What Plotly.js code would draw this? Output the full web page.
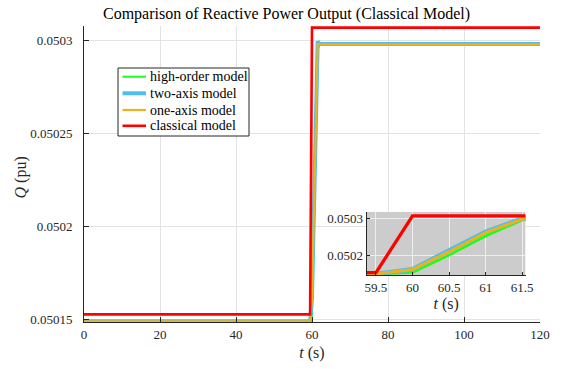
<!DOCTYPE html>
<html>
<head>
<meta charset="utf-8">
<script src="https://cdn.plot.ly/plotly-3.0.1.min.js"></script>
<style>
  html, body { margin: 0; padding: 0; background: #ffffff; }
  #chart { width: 569px; height: 369px; }
</style>
</head>
<body>
<div id="chart"></div>
<script>
// Simulation time samples (s)
const time = [0, 59.5, 60, 60.5, 61, 61.5, 62, 120];

// Reactive power output Q (pu) for each generator model
const qHighOrder = [0.050149, 0.050149, 0.050153, 0.0502005, 0.050252, 0.0502953, 0.0502977, 0.0502977];
const qTwoAxis   = [0.050149, 0.050149, 0.050162, 0.050212, 0.0502636, 0.0502995, 0.050298, 0.050298];
const qOneAxis   = [0.050149, 0.050149, 0.0501615, 0.0502095, 0.050261, 0.050298, 0.0502978, 0.0502978];
const qClassical = [0.0501527, 0.0501527, 0.0503068, 0.0503068, 0.0503068, 0.0503068, 0.0503068, 0.0503068];

const seriesNames = ['high-order model', 'two-axis model', 'one-axis model', 'classical model'];
const seriesValues = [qHighOrder, qTwoAxis, qOneAxis, qClassical];

// Tick labels
const xTicks = [0, 20, 40, 60, 80, 100, 120];
const yTicks = [0.05015, 0.0502, 0.05025, 0.0503];
const yTickText = ['0.05015', '0.0502', '0.05025', '0.0503'];
const zoomXTicks = [59.5, 60, 60.5, 61, 61.5];
const zoomYTicks = [0.0502, 0.0503];
const zoomYTickText = ['0.0502', '0.0503'];

// Styling
const colors = ['#1aff1a', '#4dbeee', '#edb120', '#ff0000'];
const mainWidths = [2, 4, 2.2, 2.6];
const zoomWidths = [2.6, 4.6, 3, 3.3];
const FONT = '"Liberation Serif", "DejaVu Serif", serif';
const INK = '#262626';

// Plot area in pixels (for placing the hand-drawn legend and y label)
const W = 569, H = 369;
const M = { l: 84, r: 29, t: 26, b: 47 };
const PW = W - M.l - M.r, PH = H - M.t - M.b;
const px = x => (x - M.l) / PW;
const py = y => (H - M.b - y) / PH;

const zoomXRange = [59.373, 61.545];
const zoomYRange = [0.0501464, 0.0503179];

const traces = [];
seriesValues.forEach((vals, i) => {
  traces.push({
    x: time, y: vals, type: 'scatter', mode: 'lines', name: seriesNames[i],
    line: { color: colors[i], width: mainWidths[i] },
    xaxis: 'x', yaxis: 'y', showlegend: false, hoverinfo: 'skip'
  });
});
seriesValues.forEach((vals, i) => {
  traces.push({
    x: time, y: vals, type: 'scatter', mode: 'lines', name: seriesNames[i],
    line: { color: colors[i], width: zoomWidths[i] },
    xaxis: 'x2', yaxis: 'y2', showlegend: false, hoverinfo: 'skip'
  });
});

// Legend box drawn by hand
const legBox = { x0: 118, x1: 249, y0: 68, y1: 136 };
const legRows = [76.7, 93.3, 110, 125.8];
const shapes = [
  {
    type: 'rect', xref: 'x2', yref: 'y2', layer: 'below',
    x0: zoomXRange[0], x1: zoomXRange[1], y0: zoomYRange[0], y1: zoomYRange[1],
    fillcolor: '#cccccc', line: { width: 0 }
  },
  {
    type: 'rect', xref: 'paper', yref: 'paper', layer: 'above',
    x0: px(legBox.x0), x1: px(legBox.x1), y0: py(legBox.y1), y1: py(legBox.y0),
    fillcolor: '#ffffff', line: { color: INK, width: 1 }
  }
];
const annotations = [];
seriesNames.forEach((name, i) => {
  shapes.push({
    type: 'line', xref: 'paper', yref: 'paper', layer: 'above',
    x0: px(122.5), x1: px(146), y0: py(legRows[i]), y1: py(legRows[i]),
    line: { color: colors[i], width: mainWidths[i] }
  });
  annotations.push({
    xref: 'paper', yref: 'paper', x: px(148), y: py(legRows[i]),
    xanchor: 'left', yanchor: 'middle', showarrow: false,
    text: name, font: { family: FONT, size: 14, color: '#000' }
  });
});

// Vertical axis label
annotations.push({
  xref: 'paper', yref: 'paper', x: px(20.5), y: py(178),
  xanchor: 'center', yanchor: 'middle', showarrow: false, textangle: -90,
  text: '<i>Q</i> (pu)', font: { family: FONT, size: 16, color: INK }
});

const axisCommon = {
  showline: true, linecolor: INK, linewidth: 1,
  ticks: 'inside', tickcolor: INK, tickwidth: 1,
  zeroline: false, mirror: false,
  tickfont: { family: FONT, size: 13, color: INK }
};

const layout = {
  width: W, height: H,
  margin: M,
  paper_bgcolor: '#ffffff', plot_bgcolor: '#ffffff',
  font: { family: FONT, color: INK },
  showlegend: false,
  title: {
    text: 'Comparison of Reactive Power Output (Classical Model)',
    font: { family: FONT, size: 16, color: '#000' },
    xref: 'paper', x: px(286.5), xanchor: 'center',
    yref: 'container', y: 1 - 13.5 / H, yanchor: 'middle'
  },
  xaxis: Object.assign({}, axisCommon, {
    domain: [0, 1], anchor: 'y', range: [0, 120],
    tickmode: 'array', tickvals: xTicks, ticklen: 5,
    showgrid: true, gridcolor: '#e3e3e3', gridwidth: 1,
    title: { text: '<i>t</i> (s)', font: { family: FONT, size: 16, color: INK }, standoff: 6 }
  }),
  yaxis: Object.assign({}, axisCommon, {
    domain: [0, 1], anchor: 'x', range: [0.0501486, 0.0503077],
    tickmode: 'array', tickvals: yTicks, ticktext: yTickText, ticklen: 5,
    ticklabelstandoff: 8,
    showgrid: true, gridcolor: '#e3e3e3', gridwidth: 1
  }),
  xaxis2: Object.assign({}, axisCommon, {
    domain: [px(366.7), px(525.5)], anchor: 'y2', range: zoomXRange,
    tickmode: 'array', tickvals: zoomXTicks, ticklen: 3,
    showgrid: true, gridcolor: '#eeeeee', gridwidth: 1,
    title: { text: '<i>t</i> (s)', font: { family: FONT, size: 16, color: INK }, standoff: 2 }
  }),
  yaxis2: Object.assign({}, axisCommon, {
    domain: [py(275), py(211.7)], anchor: 'x2', range: zoomYRange,
    tickmode: 'array', tickvals: zoomYTicks, ticktext: zoomYTickText, ticklen: 3,
    showgrid: true, gridcolor: '#eeeeee', gridwidth: 1
  }),
  shapes: shapes,
  annotations: annotations
};

Plotly.newPlot('chart', traces, layout, { displayModeBar: false, staticPlot: true });
</script>
</body>
</html>
